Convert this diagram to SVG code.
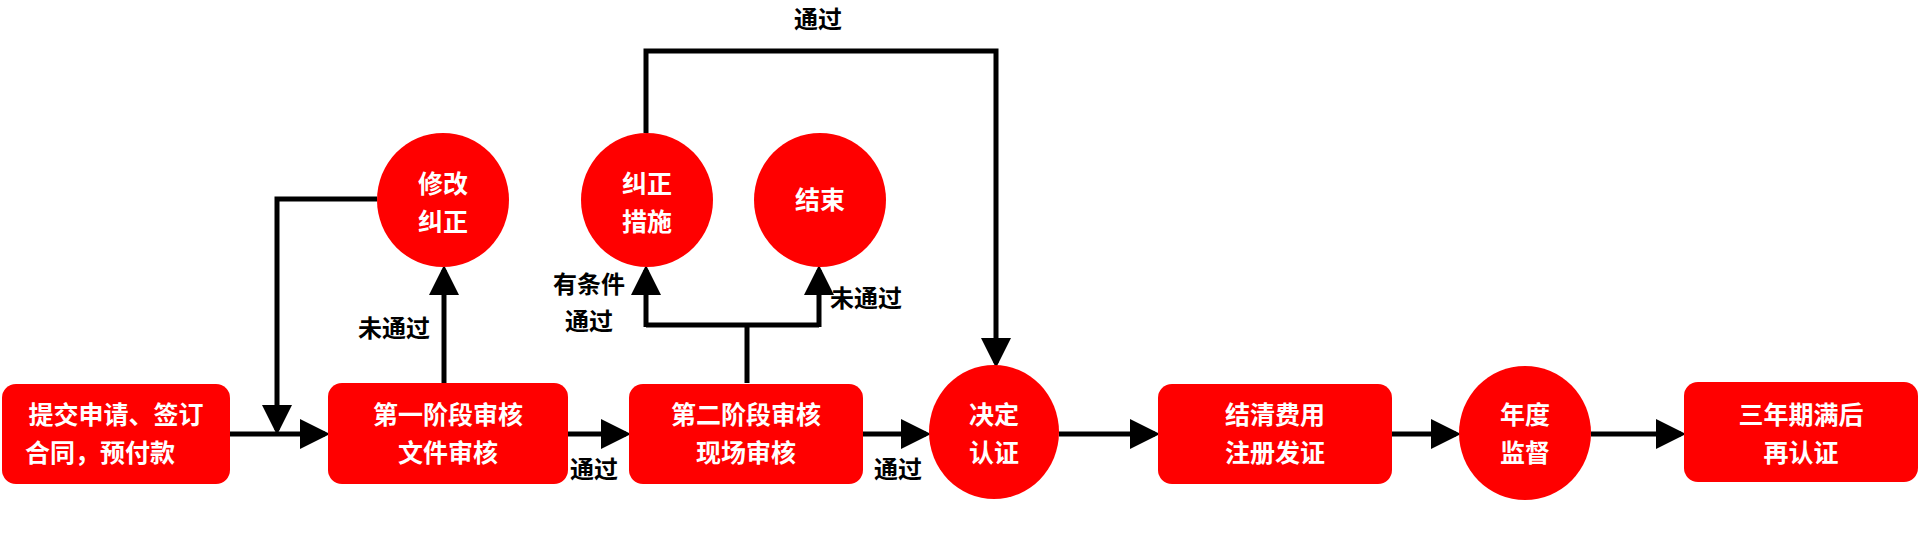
<svg xmlns="http://www.w3.org/2000/svg" width="1920" height="534" viewBox="0 0 1920 534">
<style>
.n{fill:#ff0000}
.t{font-family:"Noto Sans CJK SC","Liberation Sans",sans-serif;font-weight:bold;font-size:25px;fill:#fff;text-anchor:middle}
.l{font-family:"Noto Sans CJK SC","Liberation Sans",sans-serif;font-weight:bold;font-size:24px;fill:#000;text-anchor:middle}
.c{fill:none;stroke:#000;stroke-width:5}
</style>
<defs><marker id="a" markerWidth="6" markerHeight="6" refX="5" refY="3" orient="auto" markerUnits="strokeWidth"><path d="M0,0 L6,3 L0,6 z" fill="#000"/></marker></defs>
<rect width="1920" height="534" fill="#fff"/>
<g id="connectors">
<path class="c" d="M230,434 H325" marker-end="url(#a)"/>
<path class="c" d="M568,434 H626" marker-end="url(#a)"/>
<path class="c" d="M863,434 H926" marker-end="url(#a)"/>
<path class="c" d="M1059,434 H1155" marker-end="url(#a)"/>
<path class="c" d="M1392,434 H1456" marker-end="url(#a)"/>
<path class="c" d="M1591,434 H1681" marker-end="url(#a)"/>
<path class="c" d="M377,199 H277 V430" marker-end="url(#a)"/>
<path class="c" d="M444,383 V270" marker-end="url(#a)"/>
<path class="c" d="M747,383 V325 M646,325 H819"/>
<path class="c" d="M646,327 V270" marker-end="url(#a)"/>
<path class="c" d="M819,327 V270" marker-end="url(#a)"/>
<path class="c" d="M646,133 V51 H996 V363" marker-end="url(#a)"/>
</g>
<g id="n1"><rect class="n" x="2" y="384" width="228" height="100" rx="14"/><text class="t" x="116" y="424">提交申请、签订</text><text class="t" x="100" y="462">合同，预付款</text></g>
<g id="n2"><rect class="n" x="328" y="383" width="240" height="101" rx="14"/><text class="t" x="448" y="424">第一阶段审核</text><text class="t" x="448" y="462">文件审核</text></g>
<g id="n3"><rect class="n" x="629" y="384" width="234" height="100" rx="14"/><text class="t" x="746" y="424">第二阶段审核</text><text class="t" x="746" y="462">现场审核</text></g>
<g id="n4"><ellipse class="n" cx="994" cy="432" rx="65" ry="67"/><text class="t" x="994" y="424">决定</text><text class="t" x="994" y="462">认证</text></g>
<g id="n5"><rect class="n" x="1158" y="384" width="234" height="100" rx="14"/><text class="t" x="1275" y="424">结清费用</text><text class="t" x="1275" y="462">注册发证</text></g>
<g id="n6"><ellipse class="n" cx="1525" cy="433" rx="66" ry="67"/><text class="t" x="1525" y="424">年度</text><text class="t" x="1525" y="462">监督</text></g>
<g id="n7"><rect class="n" x="1684" y="382" width="234" height="100" rx="14"/><text class="t" x="1801" y="424">三年期满后</text><text class="t" x="1801" y="462">再认证</text></g>
<g id="n8"><ellipse class="n" cx="443" cy="200" rx="66" ry="67"/><text class="t" x="443" y="193">修改</text><text class="t" x="443" y="231">纠正</text></g>
<g id="n9"><ellipse class="n" cx="647" cy="200" rx="66" ry="67"/><text class="t" x="647" y="193">纠正</text><text class="t" x="647" y="231">措施</text></g>
<g id="n10"><ellipse class="n" cx="820" cy="200" rx="66" ry="67"/><text class="t" x="820" y="209">结束</text></g>
<g id="labels">
<text class="l" x="818" y="28">通过</text>
<text class="l" x="394" y="337">未通过</text>
<text class="l" x="589" y="293">有条件</text>
<text class="l" x="589" y="330">通过</text>
<text class="l" x="866" y="307">未通过</text>
<text class="l" x="594" y="478">通过</text>
<text class="l" x="898" y="478">通过</text>
</g>
</svg>
